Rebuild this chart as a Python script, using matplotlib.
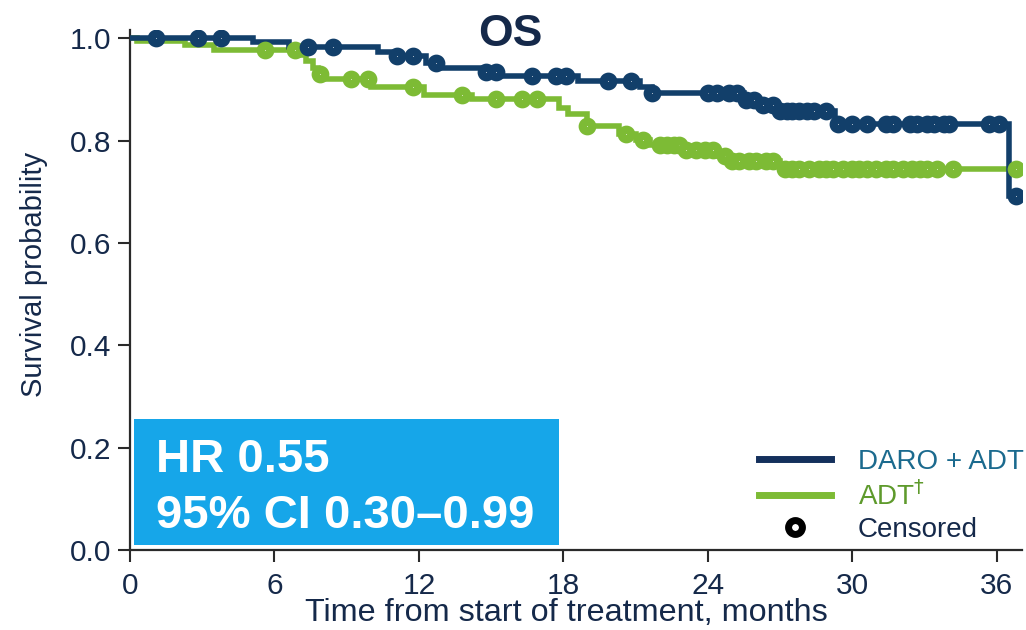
import numpy as np
import matplotlib
matplotlib.use("Agg")
import matplotlib.pyplot as plt
from matplotlib.lines import Line2D
from matplotlib.patches import Rectangle

plt.rcParams["font.family"] = ["Liberation Sans", "DejaVu Sans"]

# Kaplan-Meier step data: event times (months) and survival after each step
daro_times = [0, 5.1, 6.6, 10.3, 10.9, 12.3, 12.9, 14.6, 15.3, 18.6, 21.2, 21.7,
              25.5, 26.0, 26.9, 29.3, 36.5, 36.85]
daro_surv = [1.000, 0.993, 0.982, 0.973, 0.965, 0.951, 0.941, 0.933, 0.926, 0.916,
             0.904, 0.893, 0.879, 0.869, 0.857, 0.832, 0.691, 0.691]
daro_censored = [1.08, 2.82, 3.78, 7.39, 8.43, 11.1, 11.75, 12.7, 14.8, 15.2, 16.7,
                 17.7, 18.1, 19.85, 20.8, 21.7, 24.0, 24.4, 24.9, 25.2, 25.6, 25.9,
                 26.3, 26.7, 27.0, 27.3, 27.5, 27.8, 28.1, 28.4, 28.9, 29.4, 30.0,
                 30.6, 31.4, 31.7, 32.4, 32.7, 33.1, 33.4, 33.8, 34.0, 35.7, 36.1,
                 36.8]

adt_times = [0, 0.3, 2.3, 3.5, 6.9, 7.3, 7.6, 7.8, 8.0, 10.0, 12.2, 14.2, 17.8,
             18.2, 19.0, 20.3, 21.0, 21.6, 23.0, 24.3, 25.0, 27.0, 36.9]
adt_surv = [1.000, 0.995, 0.986, 0.977, 0.967, 0.955, 0.941, 0.930, 0.920, 0.904,
            0.889, 0.881, 0.863, 0.851, 0.828, 0.812, 0.801, 0.791, 0.781, 0.770,
            0.760, 0.744, 0.744]
adt_censored = [5.6, 6.85, 7.9, 9.2, 9.9, 11.75, 13.8, 15.2, 16.3, 16.9, 19.0,
                20.6, 21.3, 22.0, 22.3, 22.6, 22.8, 23.1, 23.5, 23.9, 24.2, 24.7,
                25.0, 25.3, 25.7, 26.0, 26.4, 26.7, 27.2, 27.5, 27.8, 28.2, 28.6,
                28.9, 29.2, 29.6, 30.0, 30.3, 30.6, 31.0, 31.4, 31.7, 32.1, 32.5,
                32.8, 33.1, 33.5, 34.2, 36.8]

x_ticks = [0, 6, 12, 18, 24, 30, 36]
y_ticks = [0.0, 0.2, 0.4, 0.6, 0.8, 1.0]

hr_text = "HR 0.55"
ci_text = "95% CI 0.30\u20130.99"

NAVY = "#123F6A"
GREEN = "#7DBB35"
BOX = "#16A6E9"
TEXT = "#15294A"
AXIS = "#2A2A2A"


def surv_at(times, surv, t):
    idx = np.searchsorted(np.asarray(times), np.asarray(t), side="right") - 1
    return np.asarray(surv)[idx]


fig = plt.figure(figsize=(10.26, 6.30), dpi=100)
ax = fig.add_axes([130 / 1026, 80 / 630, 892 / 1026, 520 / 630])

marker_kw = dict(ls="none", marker="o", ms=6.8, mew=6.0, mfc="white", zorder=4)

ax.step(adt_times, adt_surv, where="post", color=GREEN, lw=4, zorder=2,
        solid_joinstyle="miter")
ax.plot(adt_censored, surv_at(adt_times, adt_surv, adt_censored), mec=GREEN,
        **marker_kw)
ax.step(daro_times, daro_surv, where="post", color=NAVY, lw=4, zorder=3,
        solid_joinstyle="miter")
ax.plot(daro_censored, surv_at(daro_times, daro_surv, daro_censored), mec=NAVY,
        **marker_kw)

ax.set_xlim(0, 37.05)
ax.set_ylim(0, 1.016)
ax.set_xticks(x_ticks)
ax.set_xticklabels([str(v) for v in x_ticks])
ax.set_yticks(y_ticks)
ax.set_yticklabels([f"{v:.1f}" for v in y_ticks])

for side in ("top", "right"):
    ax.spines[side].set_visible(False)
for side in ("left", "bottom"):
    ax.spines[side].set_color(AXIS)
    ax.spines[side].set_linewidth(1.6)
ax.tick_params(axis="both", direction="out", length=8.5, width=1.5,
               color=AXIS, labelcolor=TEXT, labelsize=21.5)
ax.tick_params(axis="x", pad=7)
ax.tick_params(axis="y", pad=5)

ax.set_xlabel("Time from start of treatment, months", fontsize=23.3, color=TEXT)
ax.xaxis.set_label_coords(0.489, -0.093)
ax.set_ylabel("Survival probability", fontsize=21, color=TEXT)
ax.yaxis.set_label_coords(-0.092, 0.53)

ax.text(15.8, 1.008, "OS", fontsize=32, fontweight="bold", color=TEXT,
        ha="center", va="center", clip_on=False)

# hazard ratio box
ax.add_patch(Rectangle((0.17, 0.0098), 17.63, 0.246, facecolor=BOX,
                       edgecolor="none", zorder=5))
ax.text(1.08, 0.152, hr_text, fontsize=34, fontweight="bold", color="white",
        ha="left", va="baseline", zorder=6)
ax.text(1.08, 0.043, ci_text, fontsize=34, fontweight="bold", color="white",
        ha="left", va="baseline", zorder=6)

handles = [
    Line2D([], [], color="#14305C", lw=5),
    Line2D([], [], color=GREEN, lw=5),
    Line2D([], [], ls="none", marker="o", ms=10, mew=5, mfc="white", mec="black"),
]
labels = ["DARO + ADT", "ADT$^{\\dagger}$", "Censored"]
leg = fig.legend(handles, labels, loc="upper left",
                 bbox_to_anchor=(759 / 1026, 1 - 449 / 630),
                 frameon=False, fontsize=20, handlelength=2.6,
                 handletextpad=0.95, labelspacing=0.22, borderpad=0,
                 borderaxespad=0)
for txt, col in zip(leg.get_texts(), ["#1B6A8E", "#5E9A2C", TEXT]):
    txt.set_color(col)

fig.savefig("out.png", dpi=100)
